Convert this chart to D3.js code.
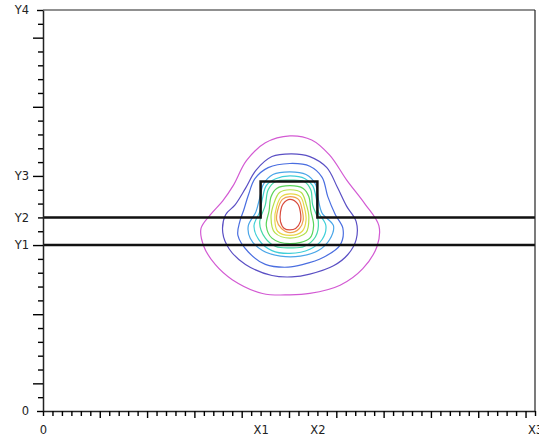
<!DOCTYPE html>
<html>
<head>
<meta charset="utf-8">
<script src="https://cdn.jsdelivr.net/npm/d3@7/dist/d3.min.js"></script>
<style>
  body { margin: 0; background: #fff; }
  svg text { font-family: "DejaVu Sans", sans-serif; font-size: 11.5px; fill: #222; }
</style>
</head>
<body>
<div id="chart"></div>
<script>
// tick labels (positions in tick units)
const xTickValues = [0, 23, 29, 52];
const xTickLabels = ["0", "X1", "X2", "X3"];
const yTickValues = [0, 12, 14, 17, 29];
const yTickLabels = ["0", "Y1", "Y2", "Y3", "Y4"];

// layer outlines
const lowerInterface = 12;      // Y1
const upperInterface = 14;      // Y2
const ridgeX = [23, 29];        // X1 .. X2
const ridgeTop = 16.6;

// contour colours, outermost first
const contourColors = ["#d35ad3", "#5a4fc4", "#4a6ee0", "#4aa6e8", "#3fcfd8",
  "#44d8a8", "#5ad45a", "#b4e04a", "#e8d84a", "#f0a050", "#d84a3c"];

// contour outlines [x, y]
const c1 = [[26.1,19.9],[28.4,19.6],[30.3,18.5],[32.1,16.7],[34.0,15.0],[35.5,13.4],[35.3,11.9],[33.8,10.3],[31.4,9.1],[28.2,8.5],[26.1,8.4],[23.2,8.5],[20.0,9.5],[18.2,10.6],[17.0,11.9],[16.7,13.2],[17.7,14.2],[19.0,15.2],[20.1,16.3],[21.5,18.1],[23.5,19.4]];
const c2 = [[26.3,18.6],[28.2,18.4],[30.0,17.6],[31.1,16.2],[32.1,14.8],[33.1,13.7],[33.1,12.4],[32.2,11.3],[30.7,10.5],[28.2,9.9],[26.3,9.7],[24.2,9.8],[21.4,10.6],[19.7,11.7],[19.0,12.9],[19.3,14.2],[20.3,14.9],[21.4,16.1],[22.5,17.4],[24.2,18.4]];
const c3 = [[26.1,17.9],[28.2,17.7],[29.5,16.9],[30.1,15.5],[30.9,14.2],[31.7,13.2],[31.4,12.0],[29.6,11.1],[27.5,10.6],[25.9,10.4],[23.5,10.6],[21.7,11.5],[20.6,12.7],[20.8,13.7],[21.2,14.5],[21.7,15.6],[22.4,16.8],[23.8,17.6]];
const c4 = [[26.1,17.3],[27.8,17.1],[28.8,16.4],[29.1,15.3],[29.5,14.3],[30.7,13.4],[30.3,12.4],[29.1,11.6],[27.2,11.2],[25.1,11.2],[23.2,11.6],[21.9,12.5],[21.7,13.4],[22.5,14.4],[22.9,15.4],[23.3,16.4],[24.3,17.1]];
const c5 = [[26.1,17.0],[27.7,16.8],[28.5,16.3],[28.9,15.3],[29.1,14.4],[29.9,13.4],[29.5,12.4],[28.2,11.7],[26.1,11.4],[24.2,11.6],[22.8,12.4],[22.3,13.4],[22.9,14.4],[23.2,15.4],[23.6,16.3],[24.6,16.8]];
const c6 = [[26.1,16.7],[27.6,16.6],[28.3,16.0],[28.5,14.9],[29.1,13.7],[28.8,12.6],[27.6,11.9],[26.1,11.8],[24.6,11.9],[23.5,12.5],[22.9,13.6],[23.5,14.9],[23.8,16.0],[24.6,16.6]];
const c7 = [[26.1,16.3],[27.5,16.1],[28.1,15.5],[28.3,14.5],[28.6,13.4],[28.2,12.5],[26.1,12.1],[24.2,12.5],[23.6,13.4],[23.9,14.5],[24.1,15.5],[24.7,16.1]];
const c8 = [[26.1,16.0],[27.3,15.8],[27.8,15.0],[28.1,14.0],[27.8,12.9],[26.1,12.5],[24.5,12.9],[24.1,14.0],[24.4,15.0],[25.0,15.8]];
const c9 = [[26.1,15.7],[27.2,15.5],[27.6,14.8],[27.8,13.8],[27.4,13.0],[26.1,12.7],[24.8,13.0],[24.5,13.8],[24.7,14.8],[25.2,15.5]];
const c10 = [[26.1,15.5],[27.0,15.3],[27.4,14.5],[27.5,13.8],[27.1,13.2],[26.1,12.9],[25.2,13.2],[24.7,13.8],[24.8,14.5],[25.3,15.3]];
const c11 = [[26.1,15.3],[26.9,15.0],[27.2,14.4],[27.2,13.7],[26.7,13.2],[26.1,13.1],[25.5,13.2],[25.1,13.7],[25.1,14.4],[25.4,15.0]];
const contours = [c1, c2, c3, c4, c5, c6, c7, c8, c9, c10, c11];

const W = 539, H = 443;
const margin = { top: 10, right: 4, bottom: 32, left: 43 };
const width = W - margin.left - margin.right;
const height = H - margin.top - margin.bottom;

const svg = d3.select("#chart").append("svg")
  .attr("width", W)
  .attr("height", H)
  .append("g")
  .attr("transform", `translate(${margin.left},${margin.top})`);

const x = d3.scaleLinear().domain([0, 52]).range([0, width]);
const y = d3.scaleLinear().domain([0, 29]).range([height, 0]);

// contours
const line = d3.line()
  .x(d => x(d[0]))
  .y(d => y(d[1]))
  .curve(d3.curveCatmullRomClosed.alpha(0.5));

svg.selectAll(".contour")
  .data(contours)
  .enter().append("path")
  .attr("class", "contour")
  .attr("d", line)
  .attr("fill", "none")
  .attr("stroke", (d, i) => contourColors[i])
  .attr("stroke-width", 1.2);

// layer outlines
const upperPath = [[0, upperInterface], [ridgeX[0], upperInterface], [ridgeX[0], ridgeTop],
  [ridgeX[1], ridgeTop], [ridgeX[1], upperInterface], [52, upperInterface]];
svg.append("path")
  .attr("d", d3.line().x(d => x(d[0])).y(d => y(d[1]))(upperPath))
  .attr("fill", "none")
  .attr("stroke", "#111")
  .attr("stroke-width", 2.5);

svg.append("line")
  .attr("x1", x(0)).attr("x2", x(52))
  .attr("y1", y(lowerInterface)).attr("y2", y(lowerInterface))
  .attr("stroke", "#111")
  .attr("stroke-width", 2.5);

// frame top / right
svg.append("line")
  .attr("x1", x(0)).attr("x2", x(52)).attr("y1", y(29)).attr("y2", y(29))
  .attr("stroke", "#222").attr("stroke-width", 1.2);
svg.append("line")
  .attr("x1", x(52)).attr("x2", x(52)).attr("y1", y(0)).attr("y2", y(29))
  .attr("stroke", "#222").attr("stroke-width", 1.2);

// axes
const xAxis = d3.axisBottom(x)
  .tickValues(d3.range(0, 53))
  .tickSizeOuter(0)
  .tickFormat(d => {
    const k = xTickValues.indexOf(d);
    return k >= 0 ? xTickLabels[k] : "";
  });

const gx = svg.append("g")
  .attr("transform", `translate(0,${height})`)
  .call(xAxis);
gx.selectAll(".tick line")
  .attr("y2", d => (d > 1 && (d - 1) % 5 === 0) ? 7 : 5)
  .attr("stroke-width", 1.4);
gx.selectAll(".tick text").attr("y", 15);

const yAxis = d3.axisLeft(y)
  .tickValues(d3.range(0, 30))
  .tickSizeOuter(0)
  .tickFormat(d => {
    const k = yTickValues.indexOf(d);
    return k >= 0 ? yTickLabels[k] : "";
  });

const gy = svg.append("g").call(yAxis);
gy.selectAll(".tick line")
  .attr("x2", d => ((d - 2) % 5 === 0) ? -10 : (d === 0 || d === 29 ? -6 : -5))
  .attr("stroke-width", 1.4);
gy.selectAll(".tick text").attr("x", -14);

svg.selectAll(".domain").attr("stroke", "#222").attr("stroke-width", 1.5);
svg.selectAll(".tick text").style("font-family", "DejaVu Sans").style("font-size", "11.5px").attr("fill", "#222");
</script>
</body>
</html>
